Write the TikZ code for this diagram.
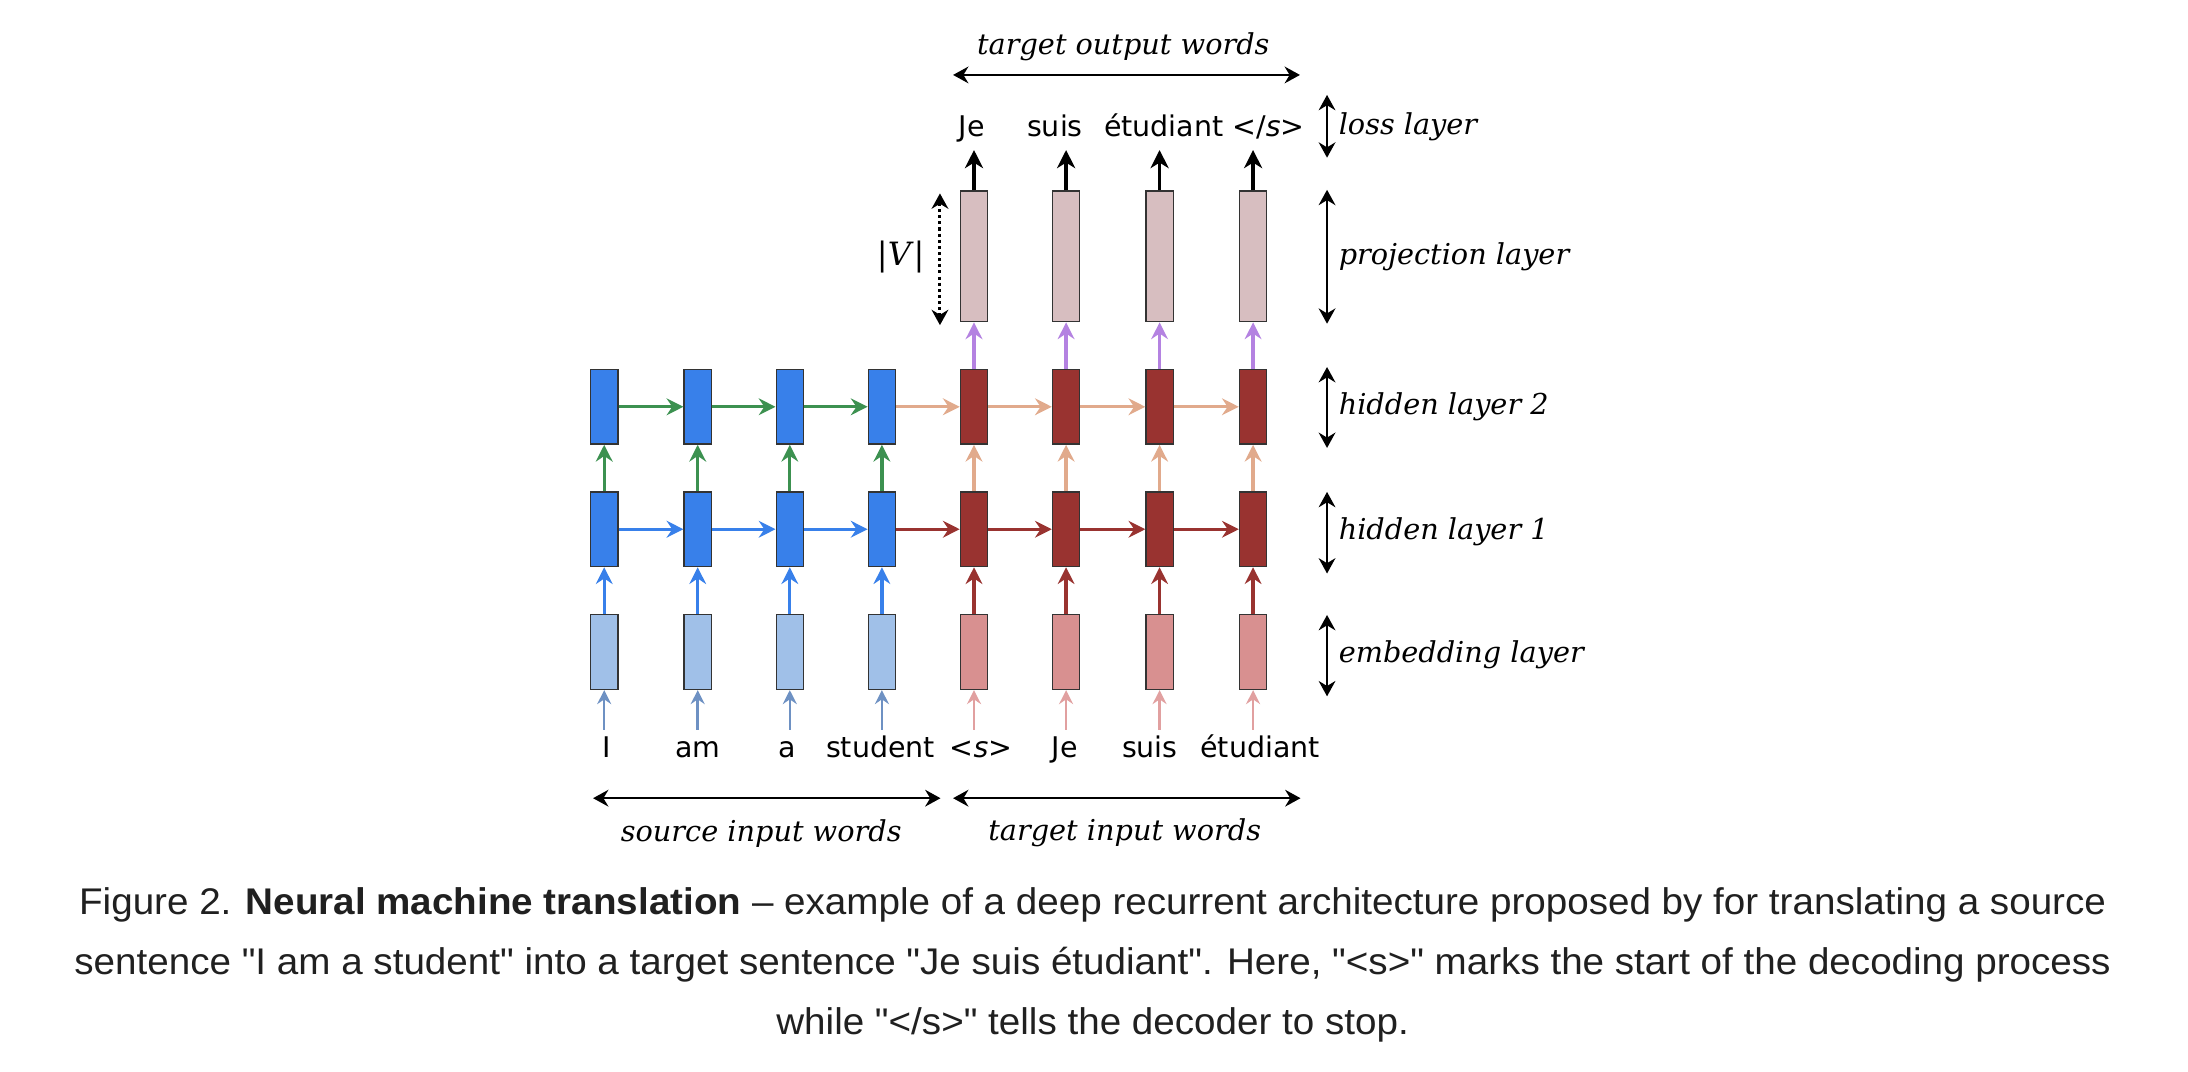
\documentclass[tikz,border=0pt]{standalone}
\usepackage{fontspec}
\setmainfont{DejaVu Sans}
\newfontfamily\labfont{DejaVu Serif}
\newfontfamily\capfont[FakeStretch=1.04]{Liberation Sans}
\usetikzlibrary{arrows.meta}
\definecolor{srchid}{RGB}{56,128,234}
\definecolor{srcemb}{RGB}{160,192,232}
\definecolor{tgthid}{RGB}{153,51,48}
\definecolor{tgtemb}{RGB}{216,144,144}
\definecolor{projfill}{RGB}{215,190,192}
\definecolor{greenarr}{RGB}{60,145,80}
\definecolor{peach}{RGB}{225,170,140}
\definecolor{purplearr}{RGB}{180,130,225}
\definecolor{steelarr}{RGB}{110,145,195}
\definecolor{pinkarr}{RGB}{225,160,160}
\definecolor{captext}{RGB}{32,32,32}
\tikzset{
  cell/.style={draw=black!80, line width=0.5pt, minimum width=9.75pt, minimum height=26.75pt, inner sep=0pt},
  projcell/.style={cell, fill=projfill, minimum height=46.75pt},
  harr/.style={line width=1.2pt, -{Stealth[length=6pt,width=6pt,inset=2pt]}},
  inarr/.style={line width=0.9pt, -{Stealth[length=5pt,width=5pt,inset=1.7pt]}},
  outarr/.style={line width=1.2pt, black, -{Stealth[length=6.5pt,width=6.5pt,inset=2pt]}},
  dimarr/.style={line width=0.8pt, black, {Stealth[length=5.5pt,width=6pt,inset=1.8pt]}-{Stealth[length=5.5pt,width=6pt,inset=1.8pt]}},
  word/.style={font=\fontsize{10.2pt}{12pt}\selectfont, inner sep=0pt, anchor=base},
  lab/.style={font=\labfont\itshape\fontsize{10.3pt}{12pt}\selectfont, inner sep=0pt},
  capt/.style={font=\capfont\fontsize{13.3pt}{16pt}\selectfont, text=captext, inner sep=0pt, anchor=base}
}
\begin{document}
\begin{tikzpicture}[x=0.5pt,y=-0.5pt]
\fill[white] (0,0) rectangle (1568,768);
\useasboundingbox (0,0) rectangle (1568,768);

% source columns
\foreach \i/\x in {1/433,2/500,3/566,4/632}{
  \node[cell,fill=srcemb] (e\i) at (\x,467.3) {};
  \node[cell,fill=srchid] (a\i) at (\x,379.25) {};
  \node[cell,fill=srchid] (b\i) at (\x,291.5) {};
  \coordinate (s\i) at (\x,523);
}
% target columns
\foreach \i/\x in {5/698,6/764,7/831,8/898}{
  \node[cell,fill=tgtemb] (e\i) at (\x,467.3) {};
  \node[cell,fill=tgthid] (a\i) at (\x,379.25) {};
  \node[cell,fill=tgthid] (b\i) at (\x,291.5) {};
  \node[projcell] (p\i) at (\x,183.75) {};
  \coordinate (s\i) at (\x,523);
  \coordinate (o\i) at (\x,107.5);
}

% vertical arrows
\foreach \i in {1,2,3,4}{
  \draw[inarr, steelarr] (s\i) -- (e\i.south);
  \draw[harr, srchid] (e\i.north) -- (a\i.south);
  \draw[harr, greenarr] (a\i.north) -- (b\i.south);
}
\foreach \i in {5,6,7,8}{
  \draw[inarr, pinkarr] (s\i) -- (e\i.south);
  \draw[harr, tgthid] (e\i.north) -- (a\i.south);
  \draw[harr, peach] (a\i.north) -- (b\i.south);
  \draw[harr, purplearr] (b\i.north) -- (p\i.south);
  \draw[outarr] (p\i.north) -- (o\i);
}

% horizontal arrows
\foreach \i/\j in {1/2,2/3,3/4}{
  \draw[harr, srchid] (a\i.east) -- (a\j.west);
  \draw[harr, greenarr] (b\i.east) -- (b\j.west);
}
\foreach \i/\j in {4/5,5/6,6/7,7/8}{
  \draw[harr, tgthid] (a\i.east) -- (a\j.west);
  \draw[harr, peach] (b\i.east) -- (b\j.west);
}

% input words
\node[word] (wI) at (435,543) {I};
\node[word] (wam) at (500,543) {am};
\node[word] (wa) at (564,543) {a};
\node[word] (wstudent) at (631,543) {student};
\node[word] (wstart) at (703,543) {<\textit{s}>};
\node[word] (wJe) at (763,543) {Je};
\node[word] (wsuis) at (824,543) {suis};
\node[word] (wetud) at (903,543) {étudiant};

% output words
\node[word] (oJe) at (696.5,97.5) {Je};
\node[word] (osuis) at (756,97.5) {suis};
\node[word] (oetud) at (834,97.5) {étudiant};
\node[word] (oend) at (909,97.5) {</\textit{s}>};

% |V|
\coordinate (vt) at (673.6,138.6);
\coordinate (vb) at (673.6,233);
\draw[line width=1.1pt, dash pattern=on 1.1pt off 1.1pt, {Stealth[length=5.5pt,width=6pt,inset=1.8pt]}-{Stealth[length=5.5pt,width=6pt,inset=1.8pt]}] (vt) -- (vb);
\node[inner sep=0pt, font=\labfont\fontsize{11.5pt}{13pt}\selectfont] (vlab) at (645.5,184) {|\textit{V}|};

% top
\coordinate (tl) at (683,53.7);
\coordinate (tr) at (931.6,53.7);
\draw[dimarr] (tl) -- (tr);
\node[lab] (toplab) at (805,33.4) {target output words};

% bottom
\coordinate (sl) at (425,572);
\coordinate (sr) at (674,572);
\coordinate (gl) at (683,572);
\coordinate (gr) at (932,572);
\draw[dimarr] (sl) -- (sr);
\draw[dimarr] (gl) -- (gr);
\node[lab] (srclab) at (545.5,597) {source input words};
\node[lab] (tgtlab) at (806,597) {target input words};

% right labels
\coordinate (l1t) at (951,68);   \coordinate (l1b) at (951,113);
\coordinate (l2t) at (951,136);  \coordinate (l2b) at (951,232);
\coordinate (l3t) at (951,263);  \coordinate (l3b) at (951,321);
\coordinate (l4t) at (951,352.5);\coordinate (l4b) at (951,411);
\coordinate (l5t) at (951,440.7);\coordinate (l5b) at (951,499);
\draw[dimarr] (l1t) -- (l1b);
\draw[dimarr] (l2t) -- (l2b);
\draw[dimarr] (l3t) -- (l3b);
\draw[dimarr] (l4t) -- (l4b);
\draw[dimarr] (l5t) -- (l5b);
\node[lab, anchor=west] (loss) at (959,91) {loss layer};
\node[lab, anchor=west] (proj) at (959,184) {projection layer};
\node[lab, anchor=west] (hid2) at (959,291.6) {hidden layer 2};
\node[lab, anchor=west] (hid1) at (959,381) {hidden layer 1};
\node[lab, anchor=west] (emb) at (959,469) {embedding layer};

% caption
\node[capt] (cap1) at (783,655) {Figure 2. \textbf{Neural machine translation} – example of a deep recurrent architecture proposed by for translating a source};
\node[capt] (cap2) at (783,698) {sentence "I am a student" into a target sentence "Je suis étudiant". Here, "<s>" marks the start of the decoding process};
\node[capt] (cap3) at (783,741) {while "</s>" tells the decoder to stop.};
\end{tikzpicture}
\end{document}
